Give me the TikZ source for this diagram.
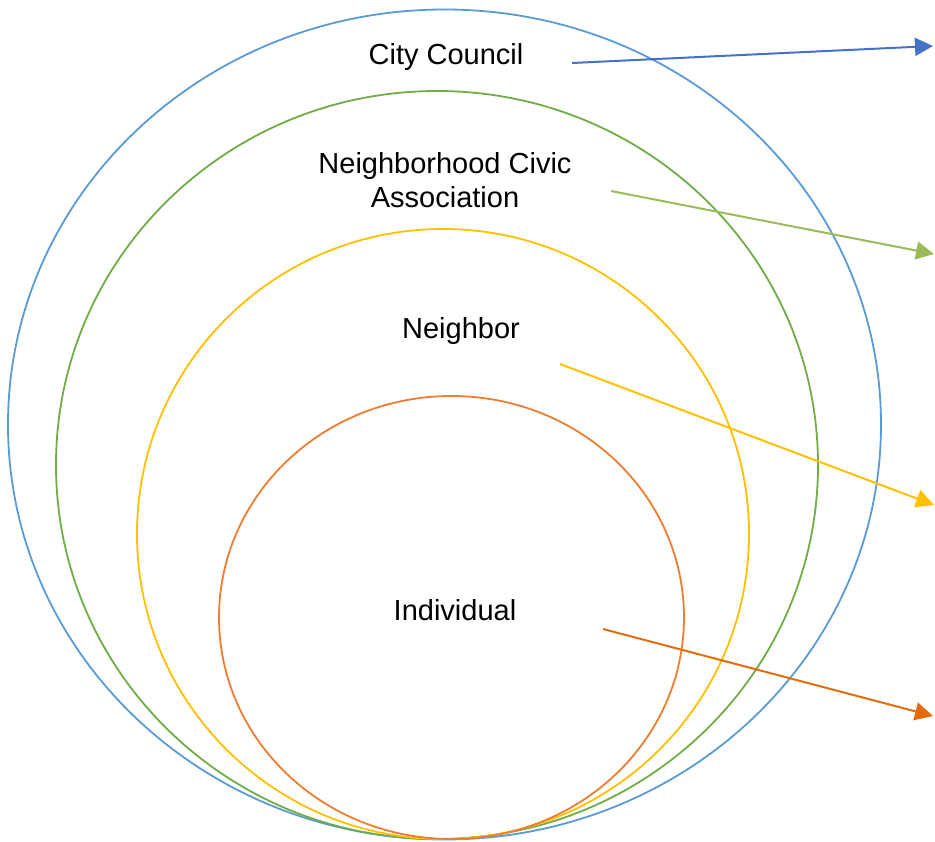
\documentclass[tikz,border=0pt]{standalone}
\usepackage{fontspec}
\setmainfont{Liberation Sans}
\usepackage{xcolor}
\usetikzlibrary{arrows.meta,positioning,calc}

\definecolor{ringblue}{HTML}{5B9BD5}
\definecolor{ringgreen}{HTML}{70AD47}
\definecolor{ringyellow}{HTML}{FFC000}
\definecolor{ringorange}{HTML}{ED7D31}
\definecolor{arrblue}{HTML}{4472C4}
\definecolor{arrgreen}{HTML}{9BBB59}
\definecolor{arrorange}{HTML}{E46C0A}

\begin{document}
\begin{tikzpicture}[
    x=1pt, y=-1pt,
    ring/.style={line width=1.8pt},
    lbl/.style={font=\fontsize{29}{34}\selectfont, align=center, inner sep=0pt},
    arrow/.style={-{Triangle[length=18pt, width=18pt]}, line width=2pt}
]
    \useasboundingbox (0,0) rectangle (935,842);

    % Rings
    \draw[ring, ringblue] (444.5,424.5) ellipse (436.5 and 415);
    \draw[ring, ringgreen] (437,465) ellipse (381 and 374);
    \draw[ring, ringyellow] (443,534) ellipse (306 and 305);
    \draw[ring, ringorange] (451.5,617.5) ellipse (232.5 and 221.5);

    % Labels
    \node[lbl] (council) at (446,57) {City Council};
    \node[lbl] (civic) at (445,180) {Neighborhood Civic\\Association};
    \node[lbl] (neighbor) at (461,331) {Neighbor};
    \node[lbl] (indiv) at (455,610) {Individual};

    % Arrow ends
    \coordinate (c1) at (572,63);   \coordinate (e1) at (933,46);
    \coordinate (c2) at (611,191);  \coordinate (e2) at (934,254);
    \coordinate (c3) at (560,364);  \coordinate (e3) at (934,505);
    \coordinate (c4) at (603,629);  \coordinate (e4) at (933,716);

    % Arrows
    \draw[arrow, arrblue] (c1) -- (e1);
    \draw[arrow, arrgreen] (c2) -- (e2);
    \draw[arrow, ringyellow] (c3) -- (e3);
    \draw[arrow, arrorange] (c4) -- (e4);
\end{tikzpicture}
\end{document}
